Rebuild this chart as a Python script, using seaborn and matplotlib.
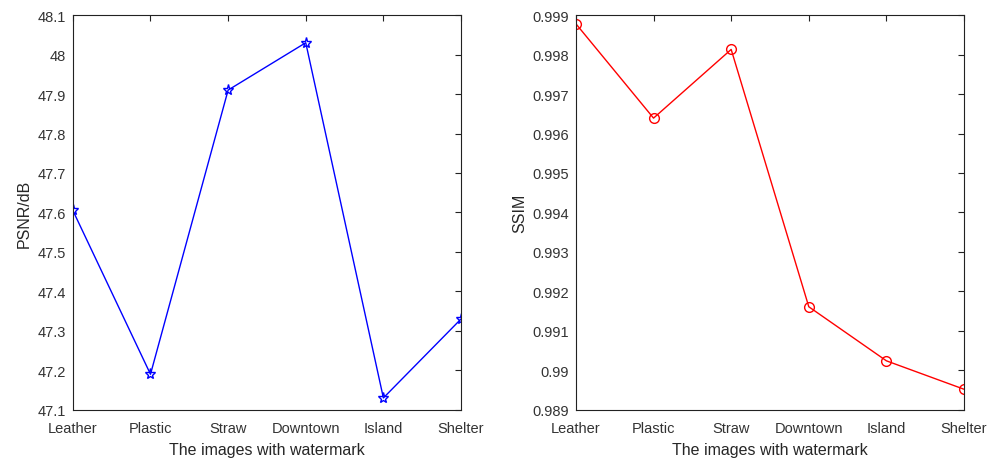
import pandas as pd
import matplotlib
matplotlib.use('Agg')
import matplotlib.pyplot as plt
import seaborn as sns

# 数据
images = ['Leather', 'Plastic', 'Straw', 'Downtown', 'Island', 'Shelter']
psnr = [47.605, 47.19, 47.91, 48.03, 47.13, 47.33]
ssim = [0.99878, 0.99639, 0.99813, 0.99161, 0.99024, 0.98952]

df = pd.DataFrame({'image': images, 'psnr': psnr, 'ssim': ssim})
df['pos'] = range(len(images))

sns.set_style('white')
plt.rcParams['font.family'] = ['Liberation Sans', 'DejaVu Sans']

fig, (ax1, ax2) = plt.subplots(1, 2, figsize=(9.98, 4.6), dpi=100)
fig.subplots_adjust(left=0.073, right=0.966, top=0.965, bottom=0.107, wspace=0.296)

# PSNR
sns.lineplot(data=df, x='pos', y='psnr', ax=ax1, color='blue', marker='*',
             markersize=8, markerfacecolor='none', markeredgecolor='blue',
             markeredgewidth=1.0, linewidth=1.0)
ax1.set_ylim(47.1, 48.1)
ax1.set_yticks([47.1 + 0.1 * i for i in range(11)])
ax1.set_yticklabels(['47.1', '47.2', '47.3', '47.4', '47.5', '47.6', '47.7',
                     '47.8', '47.9', '48', '48.1'])
ax1.set_ylabel('PSNR/dB', fontsize=11.5, labelpad=4)

# SSIM
sns.lineplot(data=df, x='pos', y='ssim', ax=ax2, color='red', marker='o',
             markersize=7, markerfacecolor='none', markeredgecolor='red',
             markeredgewidth=1.0, linewidth=1.0)
ax2.set_ylim(0.989, 0.999)
ax2.set_yticks([0.989 + 0.001 * i for i in range(11)])
ax2.set_yticklabels(['0.989', '0.99', '0.991', '0.992', '0.993', '0.994',
                     '0.995', '0.996', '0.997', '0.998', '0.999'])
ax2.set_ylabel('SSIM', fontsize=11.5, labelpad=4)

for ax in (ax1, ax2):
    ax.set_xlim(0, len(images) - 1)
    ax.set_xticks(df['pos'])
    ax.set_xticklabels(images)
    ax.set_xlabel('The images with watermark', fontsize=11.5, labelpad=5)
    ax.tick_params(direction='in', length=4, width=0.8, top=True, right=True,
                   labelsize=10.5, colors='#222222', labelcolor='#333333')
    ax.tick_params(axis='x', pad=8)
    ax.tick_params(axis='y', pad=5)
    for s in ax.spines.values():
        s.set_color('#222222')
        s.set_linewidth(0.8)

plt.savefig('out.png')
